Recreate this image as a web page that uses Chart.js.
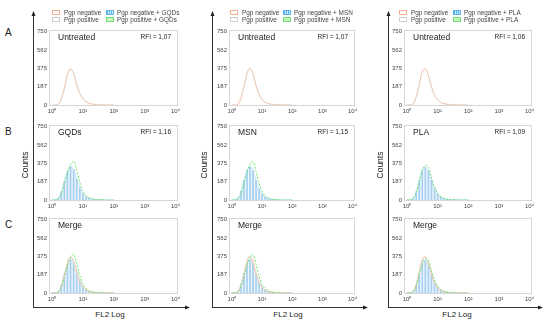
<!DOCTYPE html>
<html>
<head>
<meta charset="utf-8">
<script src="https://cdn.jsdelivr.net/npm/chart.js@4.4.1/dist/chart.umd.min.js"></script>
<style>
  body { margin: 0; background: #fff; }
  #fig { position: relative; width: 550px; height: 323px; overflow: hidden; font-family: "Liberation Sans", Arial, sans-serif; color: #222; }
  #fig canvas { position: absolute; }
  #fig svg { position: absolute; left: 0; top: 0; }
  .txt { position: absolute; white-space: nowrap; line-height: 1; }
  .sw { position: absolute; width: 8px; height: 5px; box-sizing: border-box; }
</style>
</head>
<body>
<div id="fig"></div>
<script>
// FL2 channel bins (log axis, 0.1 decade apart)
const bins = [1, 1.26, 1.58, 2, 2.51, 3.16, 3.98, 5.01, 6.31, 7.94, 10, 12.6, 15.8, 20, 25.1, 31.6, 39.8, 50.1, 63.1, 79.4, 100];

const treatments = ["GQDs", "MSN", "PLA"];
const rfiUntreated = ["1,07", "1,07", "1,06"];
const rfiTreated = ["1,16", "1,15", "1,09"];
const rowLetters = ["A", "B", "C"];
const yTicks = [0, 187, 375, 562, 750];
const xTicks = [1, 10, 100, 1000, 10000];

// counts per bin
const gqdsCtrlNeg = [0, 0, 8, 65, 175, 315, 370, 320, 205, 115, 62, 32, 16, 9, 5, 3, 1, 0, 0, 0, 0];
const gqdsCtrlPos = [0, 0, 6, 55, 160, 300, 365, 330, 220, 125, 68, 35, 18, 10, 6, 3, 1, 0, 0, 0, 0];
const gqdsNeg = [0, 2, 15, 80, 190, 290, 340, 310, 215, 125, 65, 33, 17, 9, 5, 3, 1, 0, 0, 0, 0];
const gqdsPos = [0, 1, 10, 60, 165, 280, 360, 395, 300, 180, 95, 48, 24, 13, 7, 4, 2, 1, 0, 0, 0];

const msnCtrlNeg = [0, 0, 10, 75, 190, 330, 375, 310, 195, 105, 55, 28, 14, 8, 4, 2, 1, 0, 0, 0, 0];
const msnCtrlPos = [0, 0, 8, 65, 180, 320, 370, 320, 205, 112, 60, 30, 15, 8, 4, 2, 1, 0, 0, 0, 0];
const msnNeg = [0, 3, 18, 90, 200, 300, 340, 300, 200, 115, 60, 30, 15, 8, 4, 2, 1, 0, 0, 0, 0];
const msnPos = [0, 1, 12, 65, 170, 285, 365, 390, 290, 170, 88, 44, 22, 12, 6, 3, 1, 0, 0, 0, 0];

const plaCtrlNeg = [0, 0, 12, 85, 210, 345, 372, 300, 185, 100, 52, 26, 13, 7, 4, 2, 1, 0, 0, 0, 0];
const plaCtrlPos = [0, 0, 10, 78, 200, 335, 368, 305, 192, 104, 55, 28, 14, 7, 4, 2, 1, 0, 0, 0, 0];
const plaNeg = [0, 2, 16, 85, 200, 305, 330, 295, 200, 112, 58, 29, 15, 8, 4, 2, 1, 0, 0, 0, 0];
const plaPos = [0, 1, 12, 72, 185, 300, 352, 330, 225, 130, 68, 34, 17, 9, 5, 3, 1, 0, 0, 0, 0];

const series = [
  [gqdsCtrlNeg, gqdsCtrlPos, gqdsNeg, gqdsPos],
  [msnCtrlNeg, msnCtrlPos, msnNeg, msnPos],
  [plaCtrlNeg, plaCtrlPos, plaNeg, plaPos]
];

// layout of the figure
const cols = [
  { L: 49, R: 178, axisX: 33.5, arrowEnd: 190, countsX: 25, fl2X: 110, leg: [52, 106] },
  { L: 229, R: 355, axisX: 212.5, arrowEnd: 368, countsX: 204, fl2X: 288, leg: [230, 283] },
  { L: 404, R: 532, axisX: 388.5, arrowEnd: 543, countsX: 380, fl2X: 457, leg: [399, 453] }
];
const rows = [{ T: 29, B: 105 }, { T: 124, B: 200 }, { T: 217, B: 293 }];

const sup = "⁰¹²³⁴";
const fig = document.getElementById("fig");

function text(str, x, y, size, extra) {
  const d = document.createElement("div");
  d.className = "txt";
  d.textContent = str;
  d.style.left = x + "px";
  d.style.top = y + "px";
  d.style.fontSize = size + "px";
  if (extra) Object.assign(d.style, extra);
  fig.appendChild(d);
  return d;
}

function swatch(x, y, style) {
  const d = document.createElement("div");
  d.className = "sw";
  d.style.left = x + "px";
  d.style.top = y + "px";
  Object.assign(d.style, style);
  fig.appendChild(d);
}

const frame = {
  id: "frame",
  beforeDatasetsDraw(chart) {
    const a = chart.chartArea, ctx = chart.ctx;
    ctx.save();
    ctx.strokeStyle = "#d6d6d6";
    ctx.lineWidth = 1;
    ctx.strokeRect(Math.round(a.left) + 0.5, Math.round(a.top) + 0.5, Math.round(a.width) - 1, Math.round(a.height));
    ctx.restore();
  }
};

const pts = (vals) => bins.map((b, i) => ({ x: b, y: vals[i] }));

const orangeSet = (v) => ({ data: pts(v), borderColor: "#f6cbb3", order: 1 });
const graySet = (v) => ({ data: pts(v), borderColor: "#dadada", order: 2 });
const greenSet = (v) => ({ data: pts(v), borderColor: "#6fe46f", borderDash: [2, 1.5], order: 0 });
const blueSets = (v) => [
  { type: "bar", data: pts(v), backgroundColor: "#a5d0f2", barThickness: 1, order: 3 },
  { data: pts(v), borderColor: "#c6e1f6", backgroundColor: "rgba(226,239,251,0.6)", fill: "origin", order: 4 }
];

function panel(ci, ri, datasets) {
  const c = cols[ci], r = rows[ri];
  const cv = document.createElement("canvas");
  const w = c.R - c.L + 16 + 7, h = r.B - r.T + 5 + 12;
  cv.width = w;
  cv.height = h;
  cv.style.left = (c.L - 16) + "px";
  cv.style.top = (r.T - 5) + "px";
  cv.style.width = w + "px";
  cv.style.height = h + "px";
  fig.appendChild(cv);

  new Chart(cv, {
    type: "line",
    data: { datasets },
    options: {
      responsive: false,
      animation: false,
      devicePixelRatio: 1,
      layout: { padding: { top: 5, right: 7, left: 0, bottom: 0 } },
      plugins: { legend: { display: false }, tooltip: { enabled: false } },
      elements: {
        point: { radius: 0 },
        line: { borderWidth: 1, tension: 0.4, cubicInterpolationMode: "monotone", fill: false }
      },
      scales: {
        x: {
          type: "logarithmic", min: 0.8, max: 12000, offset: false,
          grid: { display: false, drawTicks: false }, border: { display: false },
          afterBuildTicks: (s) => { s.ticks = xTicks.map((v) => ({ value: v })); },
          afterFit: (s) => { s.height = 12; },
          ticks: {
            autoSkip: false, maxRotation: 0, minRotation: 0, padding: 3,
            font: { size: 6, family: "Liberation Sans" }, color: "#444",
            callback: (v) => "10" + sup[Math.round(Math.log10(v))]
          }
        },
        y: {
          min: 0, max: 770,
          grid: { display: false, drawTicks: false }, border: { display: false },
          afterBuildTicks: (s) => { s.ticks = yTicks.map((v) => ({ value: v })); },
          afterFit: (s) => { s.width = 16; },
          ticks: { padding: 2, font: { size: 6, family: "Liberation Sans" }, color: "#444" }
        }
      }
    },
    plugins: [frame]
  });
}

// axes arrows
let svg = '<svg width="550" height="323" xmlns="http://www.w3.org/2000/svg">';
cols.forEach((c) => {
  const x = c.axisX;
  svg += `<line x1="${x}" y1="15" x2="${x}" y2="307.5" stroke="#333" stroke-width="1"/>`;
  svg += `<polygon points="${x - 2},16 ${x + 2},16 ${x},11" fill="#222"/>`;
  svg += `<line x1="${x - 0.5}" y1="307.5" x2="${c.arrowEnd - 4}" y2="307.5" stroke="#333" stroke-width="1"/>`;
  svg += `<polygon points="${c.arrowEnd - 5},305.5 ${c.arrowEnd - 5},309.5 ${c.arrowEnd},307.5" fill="#222"/>`;
});
svg += "</svg>";
fig.insertAdjacentHTML("beforeend", svg);

rowLetters.forEach((l, ri) => text(l, 5, [28, 127, 220][ri], 10));

cols.forEach((c, ci) => {
  const [neg0, pos0, neg, pos] = series[ci];
  const name = treatments[ci];

  panel(ci, 0, [orangeSet(neg0), graySet(pos0)]);
  panel(ci, 1, [...blueSets(neg), greenSet(pos)]);
  panel(ci, 2, [orangeSet(neg0), graySet(pos0), ...blueSets(neg), greenSet(pos)]);

  const titles = ["Untreated", name, "Merge"];
  rows.forEach((r, ri) => {
    text(titles[ri], c.L + 9, r.T + 4, 8.5);
    if (ri < 2) {
      const rfi = ri === 0 ? rfiUntreated[ci] : rfiTreated[ci];
      text("RFI = " + rfi, 0, r.T + 5, 6.5, { left: "auto", right: (550 - (c.R - 7)) + "px" });
    }
  });

  // legend
  const [lx1, lx2] = c.leg;
  swatch(lx1, 10, { border: "1px solid #f5b48e", background: "#fff" });
  text("Pgp negative", lx1 + 12, 9.5, 6.4, { color: "#444" });
  swatch(lx1, 17, { border: "1px solid #cdcdcd", background: "#fff" });
  text("Pgp positive", lx1 + 12, 16.5, 6.4, { color: "#444" });
  swatch(lx2, 10, { border: "1px solid #5db3ec", background: "repeating-linear-gradient(90deg, #5db3ec 0 1px, #d4ebfb 1px 2px)" });
  text("Pgp negative + " + name, lx2 + 11, 9.5, 6.4, { color: "#444" });
  swatch(lx2, 17, { border: "1px solid #6fe06f", background: "#c6f5c3" });
  text("Pgp positive + " + name, lx2 + 11, 16.5, 6.4, { color: "#444" });

  text("Counts", c.countsX, 165, 8.5, { transform: "translate(-50%, -50%) rotate(-90deg)" });
  text("FL2 Log", c.fl2X, 311, 8, { transform: "translateX(-50%)" });
});
</script>
</body>
</html>
